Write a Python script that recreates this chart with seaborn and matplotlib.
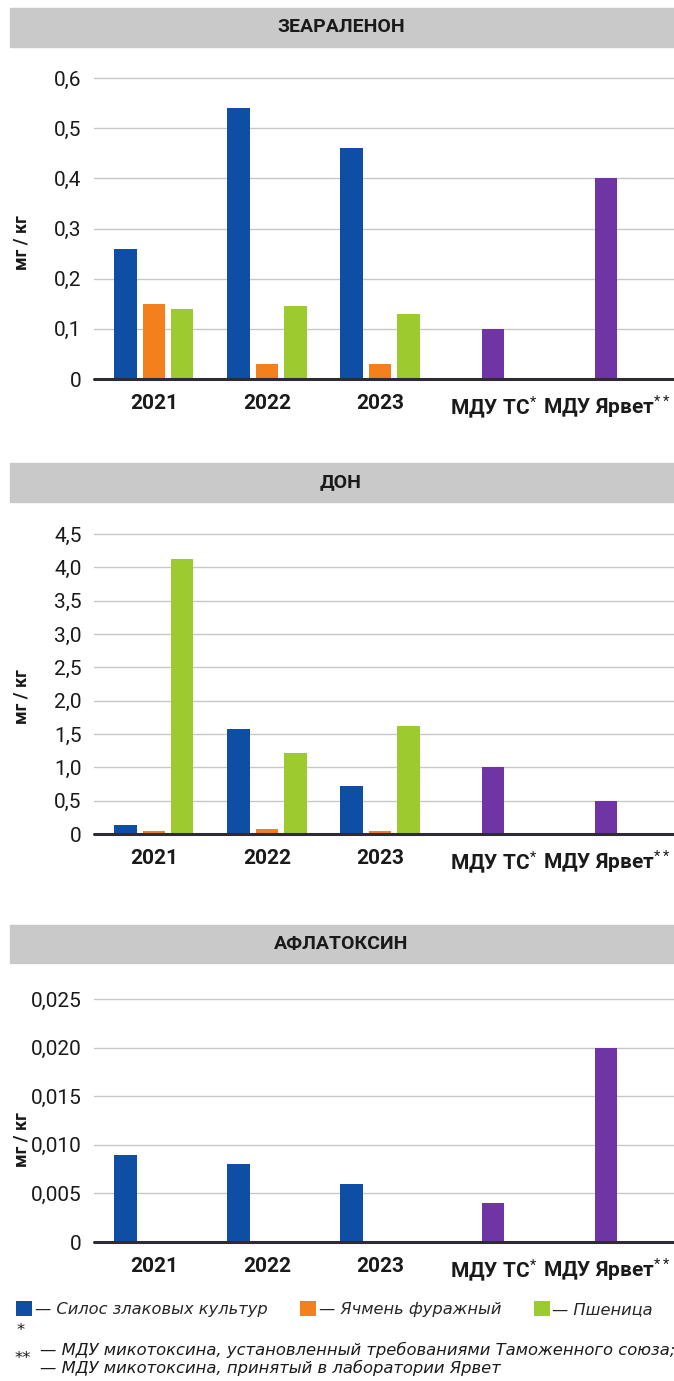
"""
Mycotoxin levels in feed (zearalenone, DON, aflatoxin) vs. maximum permitted levels.
"""
import matplotlib
matplotlib.use("Agg")
import matplotlib.pyplot as plt
from matplotlib.patches import Patch, Rectangle
import numpy as np
import pandas as pd
import seaborn as sns

# ── Data ───────────────────────────────────────────────────────────────
categories = ["2021", "2022", "2023", "МДУ ТС", "МДУ Ярвет"]
tick_labels = ["2021", "2022", "2023", r"МДУ ТС$^{*}$", r"МДУ Ярвет$^{**}$"]
years = ["2021", "2022", "2023"]
mdu_cats = ["МДУ ТС", "МДУ Ярвет"]
series = ["Силос злаковых культур", "Ячмень фуражный", "Пшеница"]

zea_silo = [0.26, 0.54, 0.46]
zea_barley = [0.15, 0.03, 0.03]
zea_wheat = [0.14, 0.145, 0.13]
zea_mdu = [0.1, 0.4]
zea_ticks = [0, 0.1, 0.2, 0.3, 0.4, 0.5, 0.6]
zea_ticklabels = ["0", "0,1", "0,2", "0,3", "0,4", "0,5", "0,6"]

don_silo = [0.14, 1.57, 0.72]
don_barley = [0.04, 0.07, 0.04]
don_wheat = [4.13, 1.21, 1.62]
don_mdu = [1.0, 0.5]
don_ticks = [0, 0.5, 1.0, 1.5, 2.0, 2.5, 3.0, 3.5, 4.0, 4.5]
don_ticklabels = ["0", "0,5", "1,0", "1,5", "2,0", "2,5", "3,0", "3,5", "4,0", "4,5"]

afl_silo = [0.009, 0.008, 0.006]
afl_barley = [0, 0, 0]
afl_wheat = [0, 0, 0]
afl_mdu = [0.004, 0.02]
afl_ticks = [0, 0.005, 0.010, 0.015, 0.020, 0.025]
afl_ticklabels = ["0", "0,005", "0,010", "0,015", "0,020", "0,025"]

# ── Style ──────────────────────────────────────────────────────────────
BLUE, ORANGE, GREEN, PURPLE = "#0e4ea5", "#f3801c", "#9dcb2f", "#6f35a5"
palette = dict(zip(series, [BLUE, ORANGE, GREEN]))

sns.set_theme(style="whitegrid")
plt.rcParams["font.family"] = ["Roboto", "DejaVu Sans"]
plt.rcParams["grid.color"] = "#c8c8c8"
plt.rcParams["grid.linewidth"] = 1.0
plt.rcParams["mathtext.fontset"] = "custom"
plt.rcParams["mathtext.rm"] = "Roboto"
plt.rcParams["mathtext.it"] = "Roboto"

W, H = 674, 1381
LEFT = 94  # px, left edge of plot area

panels = [
    dict(title="ЗЕАРАЛЕНОН", silo=zea_silo, barley=zea_barley, wheat=zea_wheat, mdu=zea_mdu,
         ticks=zea_ticks, ticklabels=zea_ticklabels, top=78, bottom=379,
         band=(8, 47), ylab_y=243),
    dict(title="ДОН", silo=don_silo, barley=don_barley, wheat=don_wheat, mdu=don_mdu,
         ticks=don_ticks, ticklabels=don_ticklabels, top=534, bottom=834,
         band=(463, 502), ylab_y=697),
    dict(title="АФЛАТОКСИН", silo=afl_silo, barley=afl_barley, wheat=afl_wheat, mdu=afl_mdu,
         ticks=afl_ticks, ticklabels=afl_ticklabels, top=999, bottom=1242,
         band=(925, 963), ylab_y=1140),
]

fig = plt.figure(figsize=(W / 100, H / 100), dpi=100)
fig.patch.set_facecolor("white")

for p in panels:
    ax = fig.add_axes([LEFT / W, 1 - p["bottom"] / H, 1 - LEFT / W, (p["bottom"] - p["top"]) / H])
    ax.set_facecolor("white")

    crops = pd.DataFrame({
        "cat": years * 3,
        "series": np.repeat(series, 3),
        "val": p["silo"] + p["barley"] + p["wheat"],
    })
    sns.barplot(data=crops, x="cat", y="val", hue="series", order=categories,
                hue_order=series, palette=palette, width=0.75, gap=0.2,
                errorbar=None, linewidth=0, saturation=1, legend=False, ax=ax)

    mdu = pd.DataFrame({"cat": mdu_cats, "val": p["mdu"]})
    sns.barplot(data=mdu, x="cat", y="val", order=categories, color=PURPLE,
                width=0.2, errorbar=None, linewidth=0, saturation=1, ax=ax)

    ax.set_xlim(-0.53, 4.6)
    ax.set_ylim(0, p["ticks"][-1])
    ax.set_yticks(p["ticks"])
    ax.set_yticklabels(p["ticklabels"], fontsize=15, color="#1a1a1a")
    ax.set_xticks(range(len(categories)))
    ax.set_xticklabels(tick_labels, fontsize=15, fontweight="bold", color="#1a1a1a")
    ax.tick_params(axis="y", length=0, pad=9)
    ax.tick_params(axis="x", length=0, pad=11)
    ax.set_xlabel("")
    ax.set_ylabel("")
    ax.grid(axis="x", visible=False)
    for gl in ax.get_ygridlines():
        gl.set_clip_on(False)
    ax.axhline(0, color="#2e2a36", linewidth=2.2, zorder=4, clip_on=False)
    sns.despine(ax=ax, left=True, bottom=True)

    # header band and title
    b0, b1 = p["band"]
    fig.add_artist(Rectangle((10 / W, 1 - b1 / H), 1 - 10 / W, (b1 - b0) / H,
                             transform=fig.transFigure, color="#c9c9c9", zorder=0))
    fig.text(341 / W, 1 - (b0 + b1) / 2 / H, p["title"], ha="center", va="center",
             fontsize=14, fontweight="bold", color="#1a1a1a")

    fig.text(22 / W, 1 - p["ylab_y"] / H, "мг / кг", rotation=90, ha="center", va="center",
             fontsize=13, fontweight="bold", color="#1a1a1a")

# ── Legend & footnotes ─────────────────────────────────────────────────
handles = [Patch(facecolor=palette[s], edgecolor="none") for s in series]
fig.legend(handles, ["— " + s for s in series], loc="center left",
           bbox_to_anchor=(16 / W, 1 - 1309 / H), ncol=3, frameon=False,
           prop=dict(family=["DejaVu Sans"], style="italic", size=11.7),
           handlelength=1.0, handleheight=1.0, handletextpad=0.15,
           columnspacing=2.0, borderpad=0, borderaxespad=0)

note_font = dict(family=["DejaVu Sans"], style="italic", size=11.8, color="#1a1a1a")
fig.text(17 / W, 1 - 1331 / H, "*", ha="left", va="center", **note_font)
fig.text(40 / W, 1 - 1350 / H,
         "— МДУ микотоксина, установленный требованиями Таможенного союза;",
         ha="left", va="center", **note_font)
fig.text(15 / W, 1 - 1359 / H, "**", ha="left", va="center", **note_font)
fig.text(40 / W, 1 - 1368 / H, "— МДУ микотоксина, принятый в лаборатории Ярвет",
         ha="left", va="center", **note_font)

fig.savefig("out.png", dpi=100, facecolor="white")
plt.close(fig)
